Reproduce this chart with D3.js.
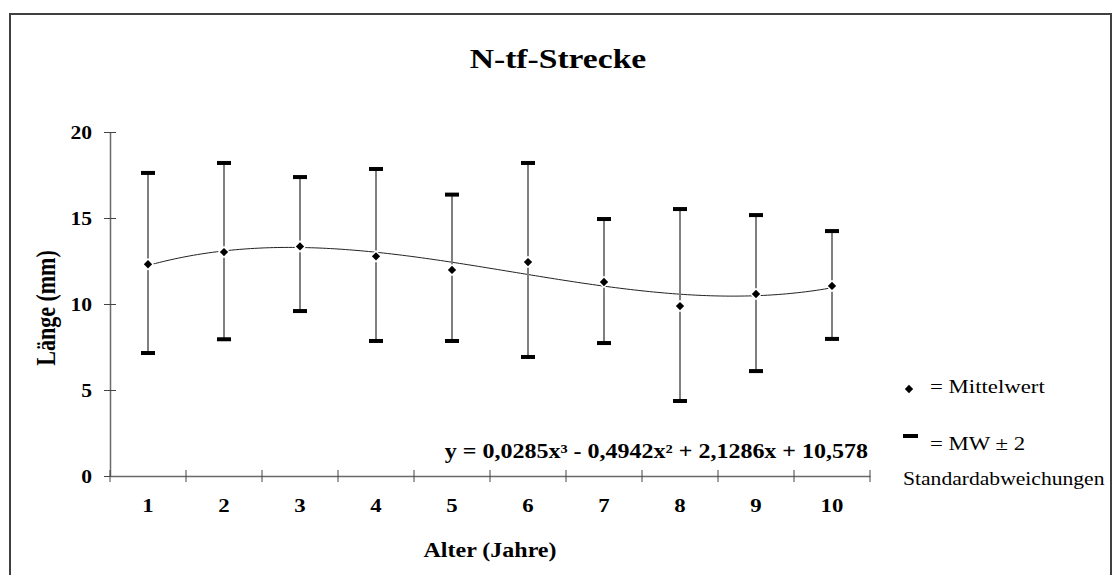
<!DOCTYPE html>
<html>
<head>
<meta charset="utf-8">
<script src="https://cdn.jsdelivr.net/npm/d3@7"></script>
<style>
  body { margin: 0; background: #fff; }
  svg { display: block; }
  text { font-family: "Liberation Serif", "Times New Roman", serif; fill: #000; }
</style>
</head>
<body>
<svg id="chart" width="1114" height="575"></svg>
<script>
// Age groups (years)
const ages = ["1", "2", "3", "4", "5", "6", "7", "8", "9", "10"];
// Mean length (mm) per age group
const means = [12.31, 13.02, 13.35, 12.77, 11.98, 12.44, 11.28, 9.88, 10.58, 11.05];
// Mean + 2 SD
const upper = [17.62, 18.20, 17.38, 17.85, 16.36, 18.20, 14.94, 15.52, 15.17, 14.24];
// Mean - 2 SD
const lower = [7.15, 7.95, 9.59, 7.85, 7.85, 6.92, 7.73, 4.36, 6.10, 7.97];
// Y axis ticks
const yTicks = [0, 5, 10, 15, 20];
// Cubic trend fit, coefficients for x^3, x^2, x, 1
const trendCoef = [0.0285, -0.4942, 2.1286, 10.578];
const trendLabel = "y = 0,0285x³ - 0,4942x² + 2,1286x + 10,578";

const title = "N-tf-Strecke";
const xTitle = "Alter (Jahre)";
const yTitle = "Länge (mm)";
const legendMean = "= Mittelwert";
const legendSd1 = "= MW ± 2";
const legendSd2 = "Standardabweichungen";

const SX = 1.2; // horizontal text stretch
const svg = d3.select("#chart");

// chart frame
svg.append("rect")
  .attr("x", 10).attr("y", 14)
  .attr("width", 1101).attr("height", 620)
  .attr("fill", "none").attr("stroke", "#404040").attr("stroke-width", 2);

const plot = { left: 110, right: 870, top: 132, bottom: 476 };

const x = d3.scaleBand().domain(ages).range([plot.left, plot.right]).paddingInner(0).paddingOuter(0);
const y = d3.scaleLinear().domain([0, 20]).range([plot.bottom, plot.top]);
const xc = d => x(d) + x.bandwidth() / 2;
const xLin = d3.scaleLinear().domain([1, 10]).range([xc(ages[0]), xc(ages[ages.length - 1])]);

const axisColor = "#6a6a6a";

// y axis
const gy = svg.append("g")
  .attr("transform", `translate(${plot.left},0)`)
  .call(d3.axisLeft(y).tickValues(yTicks).tickSize(6).tickSizeOuter(0));
gy.select(".domain").attr("stroke", axisColor).attr("stroke-width", 1.5);
gy.selectAll(".tick line").attr("stroke", "#444");
gy.selectAll(".tick").append("line").attr("x2", 6).attr("stroke", "#444");
gy.selectAll(".tick text")
  .attr("x", 0).attr("dy", null)
  .attr("transform", `translate(-18,6) scale(${SX},1)`)
  .style("font-size", "18px").style("font-weight", "bold")
  .style("font-family", '"Liberation Serif", serif');

// x axis
const gx = svg.append("g")
  .attr("transform", `translate(0,${plot.bottom})`)
  .call(d3.axisBottom(x).tickSize(0).tickSizeOuter(0));
gx.select(".domain").attr("stroke", axisColor).attr("stroke-width", 1.5);
gx.selectAll(".tick text")
  .attr("y", 0).attr("dy", null)
  .attr("transform", `translate(0,36) scale(${SX},1)`)
  .style("font-size", "19px").style("font-weight", "bold")
  .style("font-family", '"Liberation Serif", serif');

// category boundary ticks
const bounds = ages.map(d => x(d)).concat([plot.right]);
svg.append("g").selectAll("line").data(bounds).join("line")
  .attr("x1", d => d).attr("x2", d => d)
  .attr("y1", plot.bottom - 6).attr("y2", plot.bottom + 6)
  .attr("stroke", "#444");

// trend curve
const trendPts = d3.range(1, 10.0001, 0.05).map(t => {
  const [a, b, c, d] = trendCoef;
  return [t, a * t * t * t + b * t * t + c * t + d];
});
svg.append("path")
  .datum(trendPts)
  .attr("d", d3.line().x(p => xLin(p[0])).y(p => y(p[1])))
  .attr("fill", "none").attr("stroke", "#222").attr("stroke-width", 1);

// error bars
const rows = ages.map((a, i) => ({ a, m: means[i], hi: upper[i], lo: lower[i] }));
svg.append("g").selectAll("line").data(rows).join("line")
  .attr("x1", d => xc(d.a)).attr("x2", d => xc(d.a))
  .attr("y1", d => y(d.hi)).attr("y2", d => y(d.lo))
  .attr("stroke", "#808080").attr("stroke-width", 2);

const capW = 14, capH = 4;
const caps = rows.flatMap(d => [{ a: d.a, v: d.hi }, { a: d.a, v: d.lo }]);
svg.append("g").selectAll("rect").data(caps).join("rect")
  .attr("x", d => xc(d.a) - capW / 2).attr("y", d => y(d.v) - capH / 2)
  .attr("width", capW).attr("height", capH).attr("fill", "#000");

// mean markers
const diamond = d3.symbol().type(d3.symbolDiamond2).size(44);
svg.append("g").selectAll("path").data(rows).join("path")
  .attr("d", diamond)
  .attr("transform", d => `translate(${xc(d.a)},${y(d.m)})`)
  .attr("fill", "#000").attr("stroke", "#fff").attr("stroke-width", 3)
  .attr("paint-order", "stroke");

// fit equation
svg.append("text")
  .attr("transform", `translate(868,458) scale(${SX},1)`)
  .attr("text-anchor", "end")
  .style("font-size", "20px").style("font-weight", "bold")
  .text(trendLabel);

// titles
svg.append("text")
  .attr("transform", `translate(558,68) scale(${SX},1)`)
  .attr("text-anchor", "middle")
  .style("font-size", "28px").style("font-weight", "bold")
  .text(title);

svg.append("text")
  .attr("transform", `translate(490,557) scale(${SX},1)`)
  .attr("text-anchor", "middle")
  .style("font-size", "20px").style("font-weight", "bold")
  .text(xTitle);

svg.append("text")
  .attr("transform", `translate(55,308) scale(${SX},1) rotate(-90)`)
  .attr("text-anchor", "middle")
  .style("font-size", "22px").style("font-weight", "bold")
  .text(yTitle);

// legend
const lg = svg.append("g");
lg.append("path")
  .attr("d", diamond)
  .attr("transform", "translate(909,389)")
  .attr("fill", "#000");
lg.append("text")
  .attr("transform", `translate(930,393) scale(${SX},1)`)
  .style("font-size", "19px")
  .text(legendMean);
lg.append("rect")
  .attr("x", 903).attr("y", 434).attr("width", 15).attr("height", 4)
  .attr("fill", "#000");
lg.append("text")
  .attr("transform", `translate(930,450) scale(${SX},1)`)
  .style("font-size", "19px")
  .text(legendSd1);
lg.append("text")
  .attr("transform", `translate(903,485) scale(${SX},1)`)
  .style("font-size", "18px")
  .text(legendSd2);
</script>
</body>
</html>
